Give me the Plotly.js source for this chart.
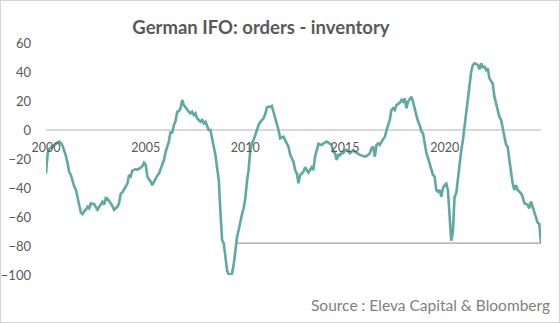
<!DOCTYPE html>
<html>
<head>
<meta charset="utf-8">
<script src="https://cdn.plot.ly/plotly-3.0.1.min.js"></script>
<style>
  html, body { margin: 0; padding: 0; background: #ffffff; }
  #wrap { position: relative; width: 560px; height: 323px; }
  #chart { width: 560px; height: 323px; }
  #frame { position: absolute; left: 0; top: 0; width: 558px; height: 321px;
           border: 1px solid #d4d4d4; pointer-events: none; }
</style>
</head>
<body>
<div id="wrap"><div id="chart"></div><div id="frame"></div></div>
<script>
// Monthly series, Jan 2000 .. Nov 2024
const startYear = 2000;
const values = [
  // 2000
  -30, -16, -13, -12, -11.5, -10, -9.5, -8.7, -8, -9, -11, -14,
  // 2001
  -18, -23, -29, -31, -36, -39, -41, -46, -51, -57, -58, -56,
  // 2002
  -55, -53, -54, -50.5, -51, -51, -53, -55, -53, -51.5, -49.5, -51.5,
  // 2003
  -47, -47.5, -48.7, -50.5, -52.4, -55, -54, -53, -50.5, -44, -43, -41,
  // 2004
  -39, -37, -31, -32, -28, -27.5, -27, -27.5, -27, -26, -25, -22.5,
  // 2005
  -24, -32, -34, -35.5, -38, -35.6, -33, -31.5, -30, -26.4, -24, -20.7,
  // 2006
  -15, -11, -8, -1.1, -2.3, 3.4, 6, 12.6, 13, 15, 20.7, 17.2,
  // 2007
  15.5, 14, 12.6, 11.5, 12.6, 10.3, 11.5, 8, 6.5, 5.7, 6.9, 4.6,
  // 2008
  5.7, 2.3, 0, 0, -5, -10, -17, -26, -34.5, -56, -76, -78,
  // 2009
  -89.7, -97, -99.5, -100, -99, -93, -84, -74, -69, -62, -58, -54,
  // 2010
  -47, -35, -28, -14, -9, -6.9, -3, 0, 3.4, 5.5, 7, 8,
  // 2011
  11, 15.5, 16, 16, 16.6, 12.6, 7, 3, 0, -5.7, -5, -4.6,
  // 2012
  -7, -9, -11.5, -17, -19.5, -22, -27.6, -30, -36.8, -31, -30, -28.7,
  // 2013
  -25.7, -28, -29.4, -27.6, -25.7, -27.6, -18.4, -14, -9.5, -10, -10.3, -9.2,
  // 2014
  -8.5, -8, -8.7, -9.5, -10.3, -15, -16, -20.7, -17.2, -17.5, -15.5, -16,
  // 2015
  -14, -13.8, -15, -16, -15, -13.8, -15, -16, -16.5, -17.2, -17.5, -18,
  // 2016
  -18.4, -18, -17, -16, -12.6, -11.5, -18.4, -10.3, -9.2, -10.3, -8, -6,
  // 2017
  -4.6, 0, 3.4, 6.9, 13.8, 15, 13.8, 17.2, 18, 18.8, 20.7, 19.5,
  // 2018
  21.8, 15, 19.5, 21, 23, 19.5, 13.8, 10.3, 6, 3.4, -1, -2.3,
  // 2019
  -9.2, -16, -19, -23, -28, -31, -32, -41.4, -42.5, -41.4, -46, -40,
  // 2020
  -38, -37, -41.4, -60, -76.3, -70, -46, -43.7, -32, -25, -14, -6.9,
  // 2021
  3, 9.2, 20.7, 30, 40, 44.8, 46, 45.5, 44.8, 41.8, 46, 43.2,
  // 2022
  43.7, 41.4, 42.5, 35.6, 33.3, 32, 23, 18.4, 13.8, 9, 6.9, 0,
  // 2023
  -4.6, -10.3, -11.5, -20.7, -29.9, -36.8, -41.4, -38, -41.4, -42.5, -43.7, -46,
  // 2024
  -50.5, -51, -51.7, -54, -49.4, -53, -56.3, -59.8, -64, -64.8, -78
];

// Reference level line (drawn from mid-2009 to the last observation)
const refLevel = -78;
const refStart = '2009-07-20';

// Axis ticks
const xTickYears = [2000, 2005, 2010, 2015, 2020];
const yTicks = [-100, -80, -60, -40, -20, 0, 20, 40, 60];

const titleText = 'German IFO: orders - inventory';
const sourceText = 'Source : Eleva Capital &amp; Bloomberg';

// Build monthly date labels
const dates = values.map((v, i) => {
  const y = startYear + Math.floor(i / 12);
  const m = (i % 12) + 1;
  return y + '-' + String(m).padStart(2, '0') + '-01';
});
const lastDate = dates[dates.length - 1];

const font = '"Lato", "Liberation Sans", sans-serif';

const traces = [
  {
    x: dates, y: values, type: 'scatter', mode: 'lines',
    line: { color: '#5ea9a3', width: 2.6 },
    hoverinfo: 'skip', showlegend: false
  },
  {
    x: [refStart, lastDate], y: [refLevel, refLevel], type: 'scatter', mode: 'lines',
    line: { color: '#8a8a8a', width: 1 },
    hoverinfo: 'skip', showlegend: false
  }
];

const layout = {
  width: 560, height: 323,
  margin: { l: 46, r: 19, t: 43, b: 48 },
  paper_bgcolor: '#ffffff', plot_bgcolor: '#ffffff',
  font: { family: font, color: '#595959', size: 11 },
  title: {
    text: '<b>' + titleText + '</b>',
    x: 0.466, xanchor: 'center', y: 0.915, yanchor: 'middle',
    font: { family: font, size: 18.5, color: '#595959' }
  },
  xaxis: {
    type: 'date',
    range: [dates[0], lastDate],
    anchor: 'free', position: 0.625,
    tickvals: xTickYears.map(y => y + '-01-01'),
    ticktext: xTickYears.map(String),
    showgrid: false, zeroline: false, showline: false, ticks: '',
    tickfont: { family: font, size: 12.5, color: '#595959' },
    ticklabelstandoff: 8,
    fixedrange: true
  },
  yaxis: {
    range: [-100, 60],
    tickvals: yTicks,
    showgrid: false, showline: false, ticks: '',
    zeroline: true, zerolinecolor: '#d9d9d9', zerolinewidth: 1.5,
    tickfont: { family: font, size: 13, color: '#595959' },
    ticklabelstandoff: 14,
    fixedrange: true
  },
  annotations: [
    {
      text: sourceText, xref: 'paper', yref: 'paper',
      x: 1.022, xanchor: 'right', y: -0.128, yanchor: 'middle',
      showarrow: false,
      font: { family: font, size: 15.5, color: '#7f7f7f' }
    }
  ]
};

Plotly.newPlot('chart', traces, layout, { staticPlot: true, displayModeBar: false });
</script>
</body>
</html>
